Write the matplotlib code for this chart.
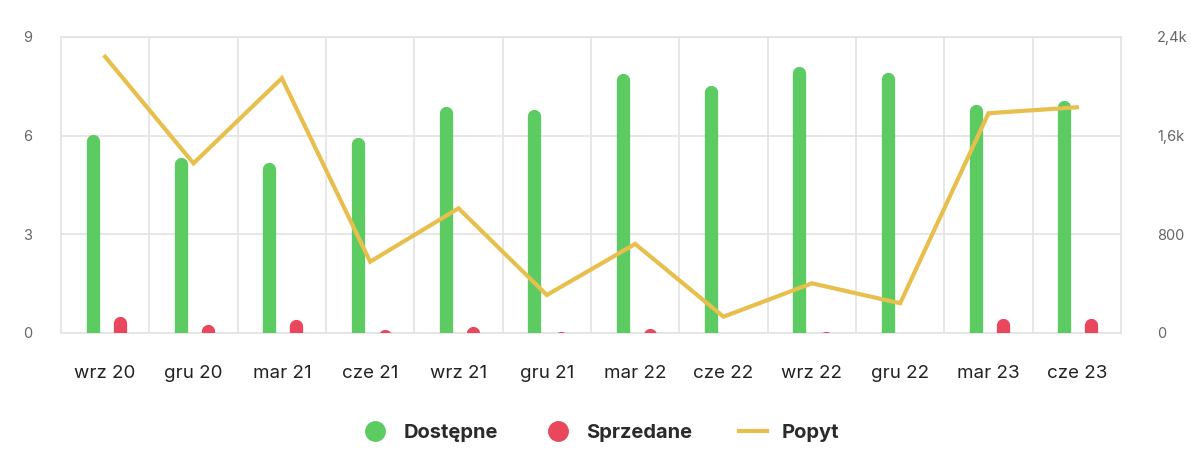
import matplotlib
matplotlib.use("Agg")
import matplotlib.pyplot as plt
from matplotlib.lines import Line2D

plt.rcParams['font.family'] = ['Inter', 'DejaVu Sans']

categories = ["wrz 20", "gru 20", "mar 21", "cze 21", "wrz 21", "gru 21",
              "mar 22", "cze 22", "wrz 22", "gru 22", "mar 23", "cze 23"]
dostepne = [6.05, 5.34, 5.18, 5.95, 6.9, 6.8, 7.9, 7.53, 8.1, 7.94, 6.95, 7.06]
sprzedane = [0.5, 0.26, 0.4, 0.1, 0.19, 0.04, 0.14, 0.0, 0.04, 0.0, 0.45, 0.45]
popyt = [2240, 1376, 2066, 578, 1011, 308, 722, 132, 403, 241, 1782, 1830]
left_ticks = [0, 3, 6, 9]
right_ticks = [0, 800, 1600, 2400]
right_labels = ["0", "800", "1,6k", "2,4k"]

GREEN = "#5ccb62"
RED = "#e8475c"
YELLOW = "#e8bf4c"
GRID = "#e3e3e3"
TICK = "#666666"

W, H, DPI = 12, 4.59, 100
fig = plt.figure(figsize=(W, H), dpi=DPI)
ax = fig.add_axes([61/1200, 1-333/459, 1060/1200, 296/459])
ax.set_xlim(-0.5, len(categories)-0.5)
ax.set_ylim(0, 9)

bar_px = 13.3
lw_pt = bar_px * 72 / DPI
px_per_unit = 296 / 9
r = (bar_px / 2) / px_per_unit

for i, (g, s) in enumerate(zip(dostepne, sprzedane)):
    if g > 0:
        ax.plot([i - 0.143, i - 0.143], [-1, g - r], color=GREEN, lw=lw_pt,
                solid_capstyle='round', zorder=3)
    if s > 0:
        ax.plot([i + 0.166, i + 0.166], [-1, s - r], color=RED, lw=lw_pt,
                solid_capstyle='round', zorder=3)

ax.set_yticks(left_ticks)
ax.set_yticklabels([str(t) for t in left_ticks])
ax.set_xticks(range(len(categories)))
ax.set_xticklabels(categories)
ax.set_xticks([i + 0.5 for i in range(len(categories) - 1)], minor=True)
ax.grid(True, axis='y', which='major', color=GRID, lw=1.2, zorder=0)
ax.grid(True, axis='x', which='minor', color=GRID, lw=1.2, zorder=0)
ax.grid(False, axis='x', which='major')
for sp in ax.spines.values():
    sp.set_color(GRID)
    sp.set_linewidth(1.2)
ax.tick_params(axis='y', length=0, pad=27, labelsize=10.5, labelcolor=TICK)
for lbl in ax.get_yticklabels():
    lbl.set_horizontalalignment('left')
ax.tick_params(axis='x', which='both', length=0, pad=23, labelsize=13.5, labelcolor="#222222")

ax2 = ax.twinx()
ax2.set_ylim(0, 2400)
ax2.plot(range(len(categories)), popyt, color=YELLOW, lw=3, solid_joinstyle='miter', zorder=4)
ax2.set_yticks(right_ticks)
ax2.set_yticklabels(right_labels)
ax2.tick_params(axis='y', length=0, pad=26, labelsize=10.5, labelcolor=TICK)
for sp in ax2.spines.values():
    sp.set_visible(False)

handles = [
    Line2D([], [], marker='o', ls='none', markersize=14, markerfacecolor=GREEN, markeredgecolor=GREEN),
    Line2D([], [], marker='o', ls='none', markersize=14, markerfacecolor=RED, markeredgecolor=RED),
    Line2D([], [], color=YELLOW, lw=3),
]
fig.legend(handles, ["Dostępne", "Sprzedane", "Popyt"], loc='center', ncol=3,
           bbox_to_anchor=(0.5, 1 - 433/459), frameon=False,
           prop={'weight': 'bold', 'size': 14.5}, labelcolor="#2a2a2a",
           handlelength=1.4, columnspacing=2.3, handletextpad=0.7)

fig.savefig("out.png", dpi=DPI)
